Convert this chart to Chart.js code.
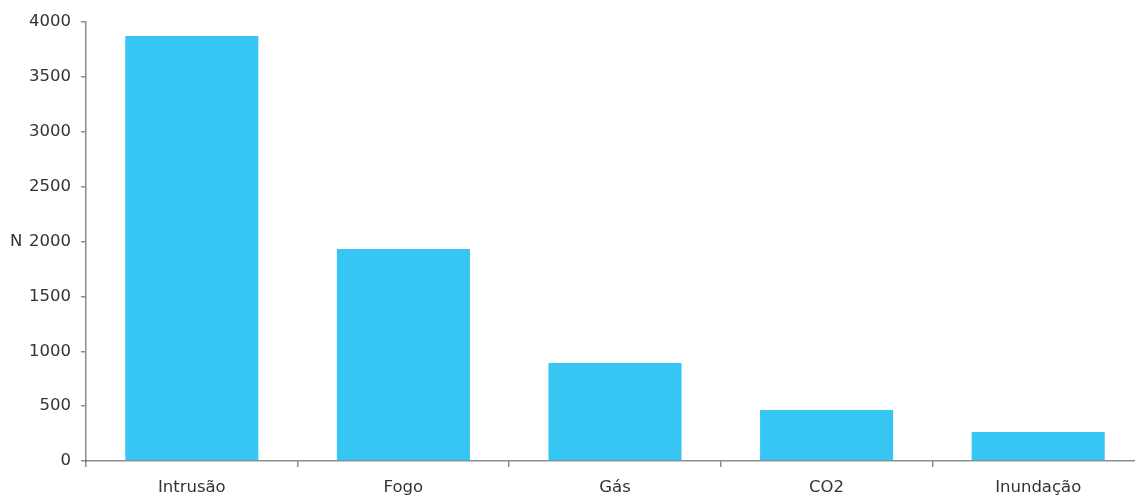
<!DOCTYPE html>
<html>
<head>
<meta charset="utf-8">
<script src="https://cdn.jsdelivr.net/npm/chart.js@4"></script>
<style>
html,body{margin:0;padding:0;background:#fff;overflow:hidden;width:1135px;height:495px;}
#wrap{width:1144px;height:495px;position:relative;}
</style>
</head>
<body>
<div id="wrap"><canvas id="c"></canvas></div>
<script>
const categories = ["Intrusão", "Fogo", "Gás", "CO2", "Inundação"];
const values = [3872, 1932, 893, 465, 264];
const yTicks = [0, 500, 1000, 1500, 2000, 2500, 3000, 3500, 4000];
const yAxisTitle = "N";

const FAMILY = "DejaVu Sans";
const FONT = {family: FAMILY, size: 16.5};
const TEXT = "#333333";
const AXIS = "rgba(0,0,0,0.45)";

const yTitlePlugin = {
  id: 'yTitle',
  afterDraw(chart) {
    const ctx = chart.ctx;
    const y = chart.scales.y.getPixelForValue(2000);
    ctx.save();
    ctx.font = "16.5px " + FAMILY;
    ctx.fillStyle = TEXT;
    ctx.textAlign = 'left';
    ctx.textBaseline = 'middle';
    ctx.fillText(yAxisTitle, 10, y);
    ctx.restore();
  }
};

new Chart(document.getElementById('c'), {
  type: 'bar',
  data: {
    labels: categories,
    datasets: [{
      data: values,
      backgroundColor: '#37C6F4',
      borderWidth: 0,
      barPercentage: 0.629,
      categoryPercentage: 1.0
    }]
  },
  options: {
    responsive: true,
    maintainAspectRatio: false,
    animation: false,
    layout: {padding: {top: 22, right: 0, left: 0, bottom: 0}},
    plugins: {legend: {display: false}, tooltip: {enabled: false}},
    scales: {
      x: {
        z: 1,
        grid: {display: true, drawOnChartArea: false, drawTicks: true, tickLength: 6, color: AXIS, lineWidth: 1.5, offset: true},
        border: {display: true, color: AXIS, width: 1.5},
        ticks: {color: TEXT, font: FONT, padding: 11},
        afterFit(s) { s.height = 34; }
      },
      y: {
        min: 0, max: 4000,
        afterBuildTicks(s) { s.ticks = yTicks.map(v => ({value: v})); },
        grid: {display: true, drawOnChartArea: false, drawTicks: true, tickLength: 5, color: AXIS, lineWidth: 1.5},
        border: {display: true, color: AXIS, width: 1.5},
        ticks: {color: TEXT, font: FONT, padding: 10, callback: v => String(v)},
        afterFit(s) { s.width = 86; }
      }
    }
  },
  plugins: [yTitlePlugin]
});
</script>
</body>
</html>
